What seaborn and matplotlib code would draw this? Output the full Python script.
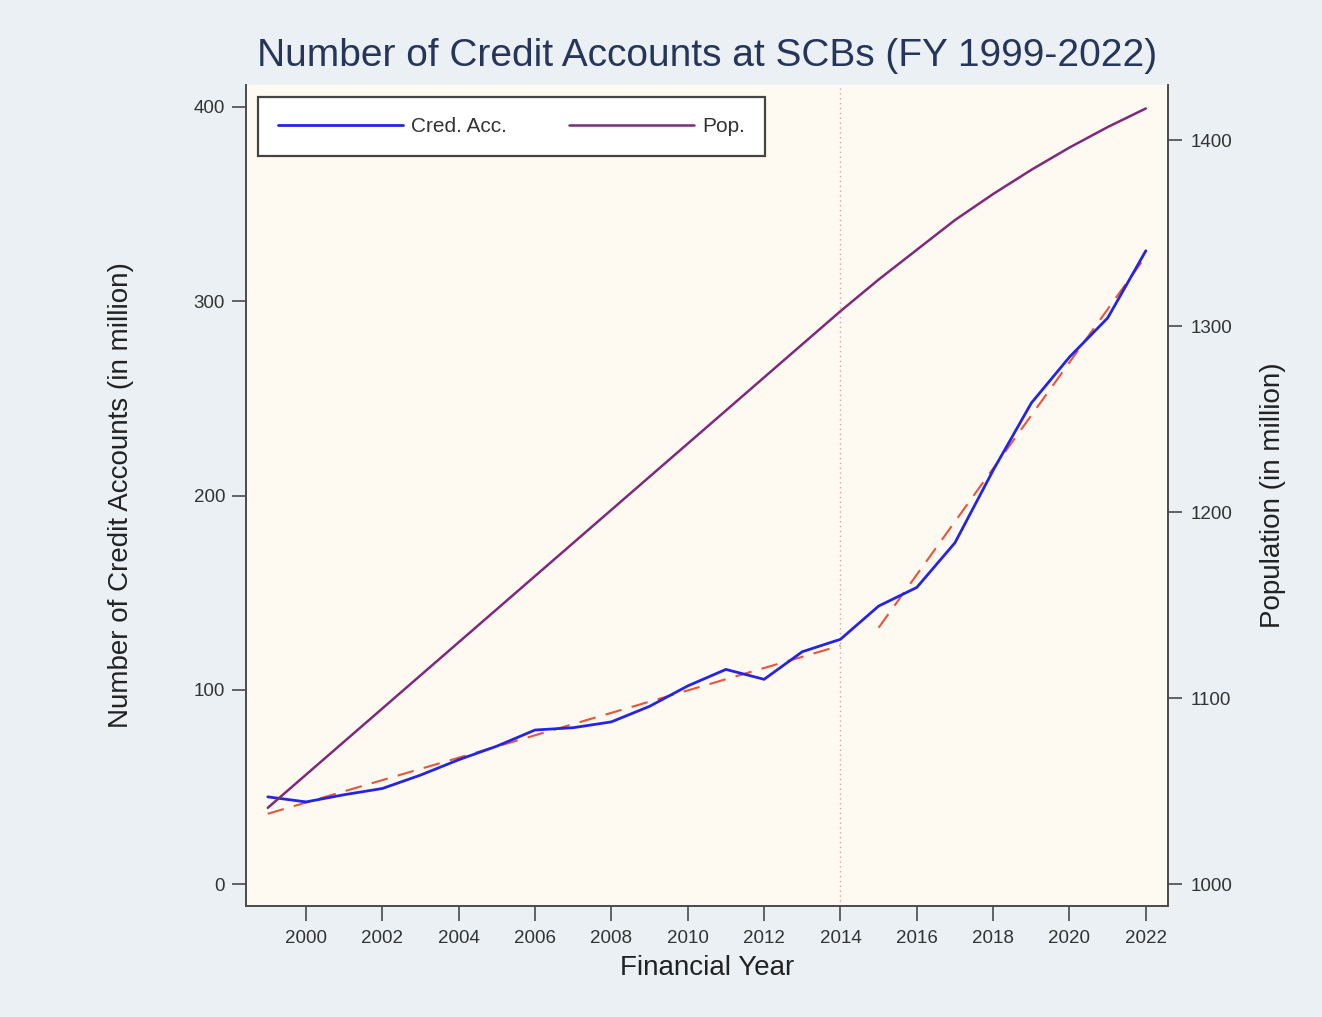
import numpy as np
import pandas as pd
import matplotlib
matplotlib.use("Agg")
import matplotlib.pyplot as plt
import seaborn as sns

# Financial years and series (millions)
years = list(range(1999, 2023))
credit_accounts = [44.9, 42.3, 46.0, 49.2, 56.1, 64.0, 71.0, 79.3, 80.5, 83.5,
                   91.5, 102.0, 110.5, 105.4, 119.6, 126.0, 143.1, 152.7, 175.7,
                   213.0, 247.6, 271.3, 291.4, 326.0]
population = [1041.0, 1058.8, 1076.6, 1094.4, 1112.2, 1130.0, 1147.8, 1165.6,
              1183.4, 1201.2, 1219.0, 1236.8, 1254.6, 1272.4, 1290.2, 1308.0,
              1325.0, 1341.0, 1357.0, 1371.0, 1384.0, 1396.0, 1407.0, 1417.0]
break_year = 2014
x_ticks = list(range(2000, 2023, 2))
left_ticks = [0, 100, 200, 300, 400]
right_ticks = [1000, 1100, 1200, 1300, 1400]

df = pd.DataFrame({"year": years, "cred": credit_accounts, "pop": population})
pre = df[df["year"] <= break_year]
post = df[df["year"] > break_year]

sns.set_theme(style="ticks")
plt.rcParams["font.family"] = ["Liberation Sans", "DejaVu Sans"]

outer_bg = "#eaf0f3"
plot_bg = "#fffaf1"
spine_c = "#4a4a4a"
text_c = "#333333"

fig = plt.figure(figsize=(13.22, 10.17), dpi=100, facecolor=outer_bg)
ax = fig.add_axes([0.1861, 0.1091, 0.6974, 0.8073])
ax.set_facecolor(plot_bg)

# linear fits before and after the break year
fit_kws = dict(color="#e8553a", lw=1.5, ls=(0, (8, 5)))
sns.regplot(data=pre, x="year", y="cred", ax=ax, scatter=False, ci=None,
            line_kws=fit_kws)
sns.regplot(data=post, x="year", y="cred", ax=ax, scatter=False, ci=None,
            line_kws=fit_kws)

sns.lineplot(data=df, x="year", y="cred", ax=ax, color="#2424e8", lw=2.0,
             label="Cred. Acc.", legend=False)
ax.axvline(break_year, color="#e39a9a", lw=1.0, ls=(0, (1, 2.5)), zorder=1)

ax2 = ax.twinx()
sns.lineplot(data=df, x="year", y="pop", ax=ax2, color="#7d2a7d", lw=1.8,
             label="Pop.", legend=False)

ax.set_xlim(1998.43, 2022.58)
ax.set_ylim(-11.3, 411.3)
ax2.set_ylim(988.2, 1429.6)

ax.set_xticks(x_ticks)
ax.set_yticks(left_ticks)
ax2.set_yticks(right_ticks)

for a in (ax, ax2):
    a.spines["top"].set_visible(False)
    for s in a.spines.values():
        s.set_color(spine_c)
        s.set_linewidth(1.4)
ax.spines["right"].set_visible(False)
ax2.spines["left"].set_visible(False)
ax2.spines["bottom"].set_visible(False)

tick_fs = 13.5
ax.tick_params(axis="x", length=11, width=1.2, color=spine_c, labelsize=tick_fs,
               labelcolor=text_c, pad=6)
ax.tick_params(axis="y", length=10, width=1.2, color=spine_c, labelsize=tick_fs,
               labelcolor=text_c, pad=5)
ax2.tick_params(axis="y", length=10, width=1.2, color=spine_c, labelsize=tick_fs,
                labelcolor=text_c, pad=6)

ax.set_xlabel("Financial Year", fontsize=20, color="#222222", labelpad=6)
ax.set_ylabel("Number of Credit Accounts (in million)", fontsize=20,
              color="#222222", labelpad=43)
ax2.set_ylabel("Population (in million)", fontsize=20, color="#222222",
               labelpad=20)

fig.text(0.5348, 0.945, "Number of Credit Accounts at SCBs (FY 1999-2022)",
         ha="center", va="center", fontsize=28, color="#26365a")

h1, l1 = ax.get_legend_handles_labels()
h2, l2 = ax2.get_legend_handles_labels()
handles = [h for h, l in zip(h1 + h2, l1 + l2) if l in ("Cred. Acc.", "Pop.")]
labels = [l for l in l1 + l2 if l in ("Cred. Acc.", "Pop.")]
leg = ax2.legend(handles, labels, loc="upper left",
                 bbox_to_anchor=(0.013, 0.5, 0.55, 0.485), mode="expand",
                 borderaxespad=0, ncol=2, fontsize=15, handlelength=6.0,
                 handletextpad=0.4, columnspacing=2.5, borderpad=0.95,
                 frameon=True, fancybox=False, framealpha=1)
leg.get_frame().set_edgecolor("#444444")
leg.get_frame().set_linewidth(1.6)
leg.get_frame().set_facecolor("white")
for t in leg.get_texts():
    t.set_color(text_c)

fig.savefig("out.png", dpi=100, facecolor=outer_bg)
